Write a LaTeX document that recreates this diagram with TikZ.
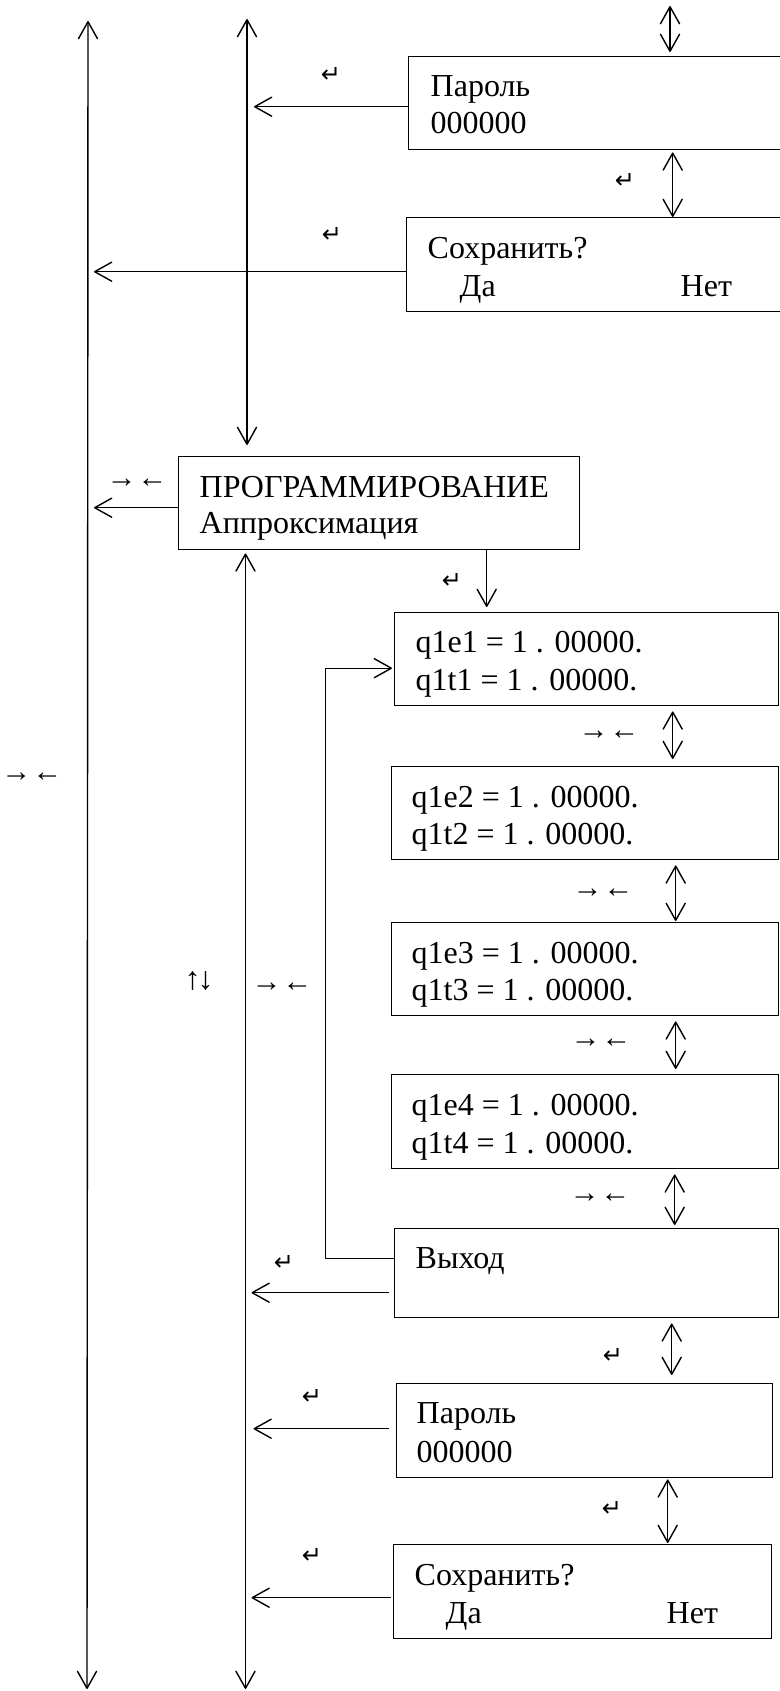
\documentclass[tikz,border=0pt]{standalone}
\usepackage{fontspec}
\setmainfont{Liberation Serif}
\newfontfamily\keyfont{DejaVu Sans}
\usetikzlibrary{arrows.meta}

\begin{document}
\begin{tikzpicture}[x=1pt,y=-1pt,line width=1.4pt,
  barb/.tip={Straight Barb[length=17pt,width=19pt,line width=1.4pt,round]},
  arr/.style={-{barb}},
  arrtwo/.style={{barb}-{barb}},
  screen/.style={draw,rectangle,inner sep=0pt,anchor=north west,line width=1.4pt},
  txt/.style={anchor=base west,inner sep=0pt,font=\fontsize{32}{36}\selectfont},
  enterkey/.style={inner sep=0pt,font=\keyfont\fontsize{24}{24}\selectfont},
  movekey/.style={inner sep=0pt,font=\fontsize{30}{30}\selectfont},
]
\useasboundingbox (0,0) rectangle (779,1691);

% screens of the menu
\node[screen,minimum width=392pt,minimum height=93pt] (pw1)   at (408,56)   {};
\node[screen,minimum width=394pt,minimum height=94pt] (save1) at (406,217)  {};
\node[screen,minimum width=401pt,minimum height=93pt] (prog)  at (178,456)  {};
\node[screen,minimum width=384pt,minimum height=93pt] (q1)    at (394,612)  {};
\node[screen,minimum width=387pt,minimum height=93pt] (q2)    at (391,766)  {};
\node[screen,minimum width=387pt,minimum height=93pt] (q3)    at (391,922)  {};
\node[screen,minimum width=387pt,minimum height=94pt] (q4)    at (391,1074) {};
\node[screen,minimum width=384pt,minimum height=89pt] (exit)  at (394,1228) {};
\node[screen,minimum width=376pt,minimum height=94pt] (pw2)   at (396,1383) {};
\node[screen,minimum width=378pt,minimum height=94pt] (save2) at (393,1544) {};

% screen texts
\node[txt] (pw1a) at (430,97)  {Пароль};
\node[txt] (pw1b) at (430,133) {000000};
\node[txt] (sv1a) at (427,258) {Сохранить?};
\node[txt] (sv1b) at (459,296) {Да};
\node[txt] (sv1c) at (680,296) {Нет};
\node[txt] (pra)  at (199,497) {ПРОГРАММИРОВАНИЕ};
\node[txt] (prb)  at (199,533) {Аппроксимация};
\node[txt] (q1a)  at (415,652)  {q1e1 = 1 . 00000.};
\node[txt] (q1b)  at (415,690)  {q1t1 = 1 . 00000.};
\node[txt] (q2a)  at (411,807)  {q1e2 = 1 . 00000.};
\node[txt] (q2b)  at (411,844)  {q1t2 = 1 . 00000.};
\node[txt] (q3a)  at (411,963)  {q1e3 = 1 . 00000.};
\node[txt] (q3b)  at (411,1000) {q1t3 = 1 . 00000.};
\node[txt] (q4a)  at (411,1115) {q1e4 = 1 . 00000.};
\node[txt] (q4b)  at (411,1153) {q1t4 = 1 . 00000.};
\node[txt] (exa)  at (415,1268) {Выход};
\node[txt] (pw2a) at (416,1423) {Пароль};
\node[txt] (pw2b) at (416,1462) {000000};
\node[txt] (sv2a) at (414,1585) {Сохранить?};
\node[txt] (sv2b) at (445,1623) {Да};
\node[txt] (sv2c) at (666,1623) {Нет};

% key labels
\node[enterkey] (k1) at (331,75)   {↵};
\node[enterkey] (k2) at (625,181)  {↵};
\node[enterkey] (k3) at (332,235)  {↵};
\node[enterkey] (k4) at (452,581)  {↵};
\node[enterkey] (k5) at (284,1263) {↵};
\node[enterkey] (k6) at (613,1356) {↵};
\node[enterkey] (k7) at (312,1397) {↵};
\node[enterkey] (k8) at (612,1509) {↵};
\node[enterkey] (k9) at (312,1556) {↵};

\node[movekey] (m1) at (137,483)  {→\kern1pt←};
\node[movekey] (m2) at (609,735)  {→\kern1pt←};
\node[movekey] (m3) at (32,777)   {→\kern1pt←};
\node[movekey] (m4) at (603,893)  {→\kern1pt←};
\node[movekey] (m5) at (282,987)  {→\kern1pt←};
\node[movekey] (m6) at (601,1043) {→\kern1pt←};
\node[movekey] (m7) at (600,1198) {→\kern1pt←};
\node[movekey,font=\fontsize{32}{32}\selectfont] (ud) at (199,981) {↑\kern-3pt↓};

% vertical spines
\coordinate (L1top) at (88,21);
\coordinate (L1bot) at (87,1689);
\coordinate (L2top) at (247,19);
\coordinate (L2low) at (245.5,1689);
\coordinate (topin) at (670,6);

\draw[arrtwo] (L1top) -- (L1bot);
\draw[arrtwo,shorten >=11pt] (L2top) -- (prog.north -| L2top);
\draw[arrtwo,shorten <=3pt] (prog.south -| L2low) -- (L2low);

% exits to the spines
\draw[arr,shorten >=7pt] ([yshift=-3.5pt]pw1.west) coordinate (a1) -- (a1 -| L2top);
\draw[arr,shorten >=6pt] ([yshift=-7pt]save1.west) coordinate (a2) -- (a2 -| L1top);
\draw[arr,shorten >=6pt] ([yshift=-4.5pt]prog.west) coordinate (a3) -- (a3 -| L1top);
\draw[arr,shorten <=5pt,shorten >=6pt] ([yshift=-19.5pt]exit.west) coordinate (a4) -- (a4 -| L2low);
\draw[arr,shorten <=7pt,shorten >=8pt] ([yshift=2pt]pw2.west) coordinate (a5) -- (a5 -| L2low);
\draw[arr,shorten <=2pt,shorten >=6pt] ([yshift=-6pt]save2.west) coordinate (a6) -- (a6 -| L2low);

% loop from the exit screen back to the first coefficient
\draw[arr,shorten >=2pt] ([yshift=14.5pt]exit.west) -- ++(-68.5,0) |- ([yshift=-9pt]q1.west);

% entry into the coefficient list
\draw[arr,shorten >=5pt] ([xshift=107.5pt]prog.south) coordinate (p1) -- (p1 |- q1.north);

% scrolling between screens
\draw[arrtwo,shorten >=4pt] (topin) -- (topin |- pw1.north);
\draw[arrtwo,shorten <=2pt] ([xshift=68pt]pw1.south) coordinate (d1) -- (d1 |- save1.north);
\draw[arrtwo,shorten <=5pt,shorten >=7pt] ([xshift=86pt]q1.south) coordinate (d2) -- (d2 |- q2.north);
\draw[arrtwo,shorten <=5pt,shorten >=1pt] ([xshift=90.5pt]q2.south) coordinate (d3) -- (d3 |- q3.north);
\draw[arrtwo,shorten <=5pt,shorten >=5pt] ([xshift=90.5pt]q3.south) coordinate (d4) -- (d4 |- q4.north);
\draw[arrtwo,shorten <=5pt,shorten >=3pt] ([xshift=89.5pt]q4.south) coordinate (d5) -- (d5 |- exit.north);
\draw[arrtwo,shorten <=5pt,shorten >=8pt] ([xshift=85pt]exit.south) coordinate (d6) -- (d6 |- pw2.north);
\draw[arrtwo,shorten <=1pt,shorten >=1pt] ([xshift=83pt]pw2.south) coordinate (d7) -- (d7 |- save2.north);
\end{tikzpicture}
\end{document}
